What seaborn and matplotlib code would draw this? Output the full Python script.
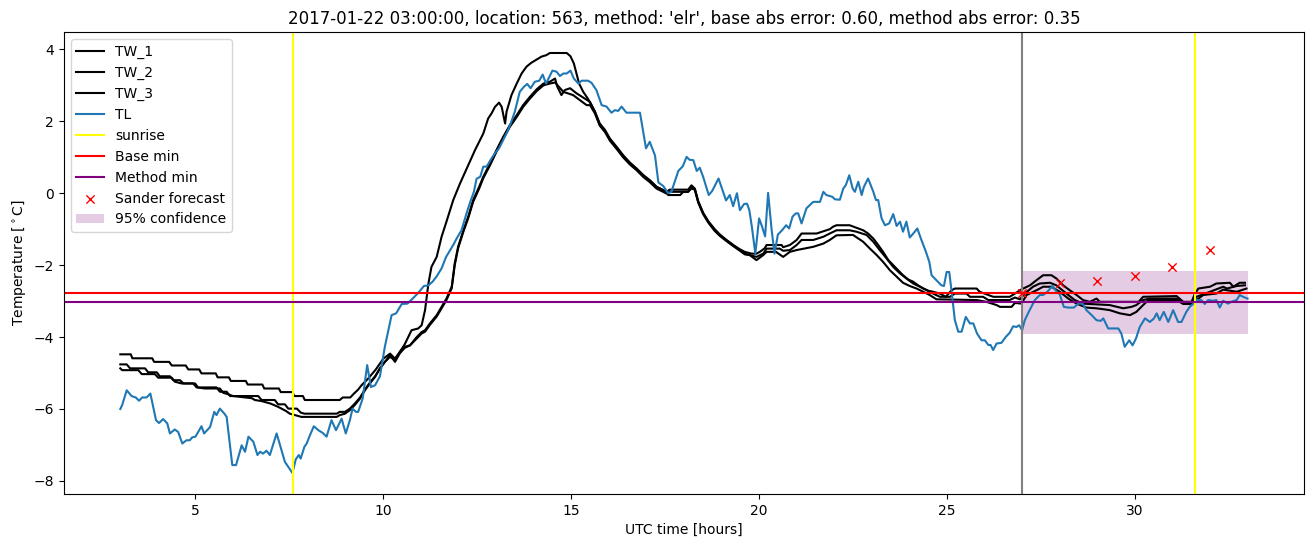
import matplotlib
matplotlib.use("Agg")
import matplotlib.pyplot as plt
import seaborn as sns

# ---------------- data ----------------
tw1_t = [3.0, 3.28, 3.32, 3.85, 3.9, 4.3, 4.37, 4.74, 4.81, 5.1, 5.16, 5.54, 5.59, 5.89, 5.94, 6.34, 6.39, 6.78, 6.83,
         7.22, 7.27, 7.58, 7.63, 7.86, 7.91, 8.84, 8.92, 9.12, 9.22, 9.33, 9.42, 9.6, 9.8, 10.0, 10.18, 10.31, 10.44,
         10.57, 10.75, 10.93, 11.02, 11.11, 11.2, 11.28, 11.42, 11.55, 11.68, 11.86, 12.04, 12.22, 12.44, 12.66, 12.79,
         12.88, 12.97, 13.08, 13.15, 13.24, 13.28, 13.41, 13.55, 13.68, 13.81, 13.94, 14.08, 14.21, 14.34, 14.43, 14.88,
         14.98, 15.07, 15.14, 15.21, 15.32, 15.45, 15.63, 15.76, 15.9, 16.03, 16.21, 16.38, 16.56, 16.74, 16.92, 17.09,
         17.27, 17.54, 17.62, 18.11, 18.2, 18.29, 18.38, 18.51, 18.65, 18.82, 18.96, 19.13, 19.31, 19.49, 19.62, 19.8,
         19.93, 20.02, 20.15, 20.2, 20.6, 20.64, 20.82, 21.0, 21.13, 21.53, 21.88, 21.97, 22.06, 22.41, 22.64, 22.77,
         22.9, 23.04, 23.17, 23.3, 23.44, 23.57, 23.7, 23.83, 23.97, 24.1, 24.23, 24.37, 24.5, 24.63, 24.81, 24.97,
         25.12, 25.21, 25.79, 25.87, 26.1, 26.23, 26.67, 26.81, 26.94, 27.03, 27.21, 27.38, 27.56, 27.78, 27.91, 28.09,
         28.27, 28.45, 28.62, 28.8, 28.98, 29.07, 30.1, 30.22, 31.11, 31.29, 31.51, 31.6, 31.69, 32.0, 32.17, 32.53,
         32.62, 32.79, 32.93]
tw1_v = [-4.48, -4.48, -4.59, -4.59, -4.69, -4.69, -4.79, -4.79, -4.9, -4.9, -5.01, -5.01, -5.12, -5.12, -5.22, -5.22,
         -5.32, -5.32, -5.43, -5.43, -5.53, -5.53, -5.64, -5.64, -5.75, -5.75, -5.68, -5.68, -5.57, -5.46, -5.34, -5.15,
         -4.9, -4.6, -4.46, -4.6, -4.41, -4.2, -3.81, -3.76, -3.67, -3.25, -2.51, -2.05, -1.77, -1.21, -0.79, -0.19,
         0.27, 0.69, 1.2, 1.66, 2.08, 2.22, 2.4, 2.52, 2.4, 1.94, 2.27, 2.73, 3.05, 3.33, 3.52, 3.63, 3.72, 3.8, 3.84,
         3.9, 3.9, 3.81, 3.61, 3.33, 3.05, 2.82, 2.62, 2.27, 1.9, 1.72, 1.5, 1.27, 1.04, 0.85, 0.67, 0.5, 0.36, 0.18,
         0.04, 0.1, 0.1, 0.22, 0.13, -0.22, -0.54, -0.78, -1.0, -1.15, -1.3, -1.44, -1.56, -1.63, -1.68, -1.68, -1.63,
         -1.53, -1.44, -1.44, -1.5, -1.44, -1.3, -1.12, -1.12, -1.0, -0.93, -0.89, -0.89, -0.98, -1.03, -1.12, -1.26,
         -1.44, -1.63, -1.86, -2.0, -2.14, -2.28, -2.4, -2.46, -2.56, -2.65, -2.71, -2.74, -2.79, -2.88, -2.7, -2.65,
         -2.65, -2.74, -2.83, -2.88, -2.88, -2.79, -2.7, -2.65, -2.56, -2.42, -2.28, -2.28, -2.37, -2.56, -2.7, -2.83,
         -2.97, -3.02, -2.93, -3.02, -3.02, -2.88, -2.86, -3.02, -3.02, -2.79, -2.65, -2.6, -2.51, -2.49, -2.6, -2.49,
         -2.49]

tw2_t = [3.0, 3.17, 3.26, 3.66, 3.74, 3.97, 4.05, 4.32, 4.41, 4.59, 4.68, 4.99, 5.07, 5.56, 5.65, 5.83, 5.92, 6.67, 6.76,
         7.11, 7.2, 7.38, 7.47, 7.7, 7.8, 7.9, 8.76, 8.84, 8.98, 9.11, 9.24, 9.38, 9.51, 9.64, 9.78, 9.91, 10.04, 10.18,
         10.31, 10.44, 10.57, 10.71, 10.88, 11.02, 11.11, 11.24, 11.42, 11.55, 11.68, 11.82, 11.9, 11.99, 12.13, 12.26,
         12.39, 12.55, 12.66, 12.84, 13.01, 13.19, 13.37, 13.55, 13.72, 13.9, 14.08, 14.26, 14.43, 14.57, 14.63, 14.74,
         14.83, 14.97, 15.14, 15.32, 15.5, 15.63, 15.76, 15.9, 16.03, 16.21, 16.38, 16.56, 16.74, 16.92, 17.09, 17.27,
         17.54, 17.58, 17.9, 17.98, 18.11, 18.2, 18.29, 18.38, 18.51, 18.65, 18.82, 18.96, 19.13, 19.31, 19.49, 19.62,
         19.75, 19.93, 20.11, 20.2, 20.55, 20.64, 20.82, 21.0, 21.13, 21.44, 21.71, 21.88, 22.06, 22.41, 22.59, 22.86,
         23.04, 23.21, 23.39, 23.57, 23.75, 23.92, 24.1, 24.28, 24.45, 24.63, 24.81, 25.08, 25.21, 25.52, 25.61, 25.96,
         26.1, 26.67, 26.81, 26.94, 27.07, 27.29, 27.47, 27.74, 27.91, 28.18, 28.4, 28.62, 29.33, 29.69, 29.91, 30.04,
         30.22, 30.4, 31.11, 31.29, 31.51, 31.64, 32.0, 32.35, 32.45, 32.71, 32.93]
tw2_v = [-4.76, -4.76, -4.87, -4.87, -4.98, -4.98, -5.09, -5.09, -5.2, -5.2, -5.29, -5.29, -5.4, -5.4, -5.52, -5.52,
         -5.64, -5.64, -5.75, -5.75, -5.87, -5.87, -5.99, -5.99, -6.1, -6.13, -6.13, -6.08, -6.08, -5.99, -5.85, -5.68,
         -5.46, -5.27, -5.09, -4.87, -4.69, -4.55, -4.64, -4.41, -4.27, -4.23, -4.01, -3.86, -3.81, -3.62, -3.39, -3.16,
         -2.93, -2.6, -1.95, -1.49, -1.03, -0.65, -0.19, 0.18, 0.46, 0.83, 1.2, 1.57, 1.9, 2.17, 2.45, 2.68, 2.89, 3.05,
         3.1, 3.19, 2.96, 2.73, 2.87, 2.92, 2.78, 2.66, 2.54, 2.27, 1.94, 1.76, 1.52, 1.29, 1.06, 0.85, 0.69, 0.5, 0.36,
         0.18, 0.04, -0.05, -0.05, 0.04, 0.04, 0.13, 0.1, -0.26, -0.58, -0.82, -1.05, -1.19, -1.33, -1.47, -1.6, -1.7,
         -1.72, -1.77, -1.68, -1.54, -1.54, -1.6, -1.58, -1.44, -1.3, -1.3, -1.21, -1.12, -1.03, -1.03, -1.07, -1.16,
         -1.35, -1.58, -1.81, -2.05, -2.23, -2.37, -2.51, -2.6, -2.69, -2.79, -2.88, -2.88, -2.79, -2.79, -2.88, -2.88,
         -2.97, -2.97, -2.9, -2.95, -2.79, -2.6, -2.51, -2.49, -2.56, -2.79, -2.97, -3.07, -3.11, -3.2, -3.16, -3.11,
         -2.97, -2.93, -2.93, -3.07, -3.07, -2.88, -2.74, -2.6, -2.65, -2.58, -2.56]

tw3_t = [3.0, 3.05, 3.48, 3.57, 3.92, 4.01, 4.37, 4.45, 4.63, 4.94, 5.03, 5.25, 5.65, 5.74, 5.87, 6.0, 6.5, 6.58, 6.76,
         7.0, 7.2, 7.4, 7.51, 7.82, 8.76, 8.84, 8.98, 9.11, 9.24, 9.38, 9.51, 9.64, 9.78, 9.91, 10.04, 10.18, 10.31,
         10.44, 10.57, 10.71, 10.88, 11.02, 11.11, 11.24, 11.42, 11.55, 11.68, 11.82, 11.9, 11.99, 12.13, 12.26, 12.39,
         12.55, 12.66, 12.84, 13.01, 13.19, 13.37, 13.55, 13.72, 13.9, 14.08, 14.26, 14.43, 14.57, 14.79, 15.05, 15.23,
         15.41, 15.5, 15.63, 15.76, 15.9, 16.03, 16.21, 16.38, 16.56, 16.74, 16.92, 17.09, 17.27, 17.54, 17.62, 18.11,
         18.2, 18.29, 18.38, 18.51, 18.65, 18.82, 18.96, 19.13, 19.31, 19.49, 19.62, 19.75, 19.93, 20.11, 20.2, 20.45,
         20.64, 20.82, 21.0, 21.44, 21.71, 21.88, 22.06, 22.5, 22.77, 22.95, 23.13, 23.3, 23.48, 23.66, 23.83, 24.01,
         24.19, 24.37, 24.54, 24.72, 25.79, 26.05, 26.32, 26.41, 26.72, 26.81, 26.98, 27.12, 27.38, 27.56, 27.78, 28.0,
         28.23, 28.45, 28.71, 28.98, 29.33, 29.6, 29.87, 30.04, 30.22, 30.36, 31.11, 31.29, 31.51, 31.64, 31.82, 32.17,
         32.35, 32.71, 32.97]
tw3_v = [-4.87, -4.92, -4.92, -5.03, -5.03, -5.13, -5.13, -5.24, -5.29, -5.29, -5.4, -5.43, -5.43, -5.55, -5.59, -5.64,
         -5.7, -5.75, -5.78, -5.85, -5.94, -6.05, -6.13, -6.22, -6.22, -6.17, -6.13, -6.03, -5.89, -5.71, -5.48, -5.29,
         -5.11, -4.87, -4.69, -4.5, -4.69, -4.45, -4.3, -4.23, -4.05, -3.9, -3.85, -3.66, -3.43, -3.2, -2.97, -2.64,
         -2.0, -1.53, -1.07, -0.69, -0.24, 0.13, 0.42, 0.78, 1.15, 1.52, 1.85, 2.12, 2.4, 2.63, 2.84, 3.0, 3.05, 3.08,
         2.82, 2.73, 2.59, 2.45, 2.45, 2.22, 1.88, 1.7, 1.46, 1.23, 1.0, 0.8, 0.64, 0.45, 0.31, 0.13, -0.01, 0.04, 0.04,
         0.18, 0.1, -0.24, -0.56, -0.8, -1.03, -1.17, -1.3, -1.44, -1.58, -1.68, -1.72, -1.86, -1.72, -1.63, -1.63,
         -1.77, -1.63, -1.58, -1.49, -1.4, -1.3, -1.17, -1.16, -1.35, -1.54, -1.72, -1.91, -2.14, -2.32, -2.49, -2.58,
         -2.65, -2.74, -2.83, -2.95, -2.97, -3.02, -3.11, -3.16, -3.16, -3.05, -3.07, -2.83, -2.7, -2.6, -2.6, -2.74,
         -2.93, -3.07, -3.18, -3.2, -3.25, -3.34, -3.39, -3.3, -3.11, -2.97, -2.97, -3.08, -3.08, -2.97, -2.83, -2.79,
         -2.68, -2.74, -2.65]

tl_t = [3.0, 3.05, 3.17, 3.3, 3.41, 3.5, 3.58, 3.7, 3.8, 3.95, 4.03, 4.14, 4.25, 4.32, 4.45, 4.54, 4.65, 4.76, 4.85,
        4.91, 5.0, 5.16, 5.23, 5.39, 5.5, 5.56, 5.65, 5.77, 5.83, 5.98, 6.08, 6.23, 6.32, 6.41, 6.54, 6.65, 6.72, 6.8,
        6.89, 6.98, 7.16, 7.38, 7.47, 7.58, 7.67, 7.75, 7.8, 7.9, 7.96, 8.03, 8.15, 8.27, 8.38, 8.49, 8.62, 8.74, 8.89,
        9.0, 9.11, 9.18, 9.27, 9.33, 9.45, 9.57, 9.67, 9.78, 9.91, 10.04, 10.22, 10.34, 10.49, 10.64, 10.78, 10.93,
        11.08, 11.2, 11.31, 11.42, 11.55, 11.67, 11.86, 11.95, 12.08, 12.2, 12.3, 12.41, 12.48, 12.58, 12.66, 12.75,
        12.85, 12.97, 13.08, 13.19, 13.3, 13.39, 13.5, 13.63, 13.74, 13.83, 13.92, 14.03, 14.15, 14.24, 14.33, 14.42,
        14.5, 14.61, 14.7, 14.79, 14.88, 14.98, 15.07, 15.19, 15.28, 15.45, 15.54, 15.67, 15.81, 15.94, 16.07, 16.16,
        16.25, 16.34, 16.47, 16.83, 16.99, 17.09, 17.23, 17.32, 17.45, 17.58, 17.67, 17.71, 17.85, 17.97, 18.07, 18.15,
        18.25, 18.34, 18.42, 18.51, 18.66, 18.75, 18.92, 19.04, 19.12, 19.22, 19.31, 19.41, 19.49, 19.6, 19.68, 19.74,
        19.81, 19.9, 20.0, 20.08, 20.16, 20.24, 20.33, 20.41, 20.5, 20.61, 20.72, 20.8, 20.89, 20.98, 21.04, 21.13,
        21.26, 21.35, 21.44, 21.62, 21.71, 21.79, 21.95, 22.02, 22.15, 22.24, 22.31, 22.4, 22.49, 22.55, 22.64, 22.73,
        22.79, 22.9, 23.04, 23.11, 23.17, 23.26, 23.35, 23.46, 23.57, 23.66, 23.75, 23.83, 23.92, 24.01, 24.12, 24.21,
        24.32, 24.44, 24.53, 24.59, 24.72, 24.85, 24.92, 24.99, 25.06, 25.12, 25.21, 25.3, 25.39, 25.5, 25.61, 25.7,
        25.8, 25.92, 26.01, 26.1, 26.16, 26.23, 26.32, 26.45, 26.57, 26.67, 26.76, 26.85, 26.92, 27.0, 27.07, 27.2,
        27.34, 27.47, 27.56, 27.67, 27.81, 27.92, 28.0, 28.11, 28.23, 28.38, 28.49, 28.61, 28.71, 28.85, 28.98, 29.09,
        29.16, 29.29, 29.56, 29.64, 29.73, 29.85, 29.94, 30.03, 30.13, 30.27, 30.4, 30.51, 30.58, 30.66, 30.77, 30.89,
        31.02, 31.15, 31.24, 31.37, 31.46, 31.55, 31.64, 31.77, 31.86, 31.95, 32.08, 32.17, 32.26, 32.35, 32.48, 32.57,
        32.71, 32.79, 32.88, 33.0]
tl_v = [-6.0, -5.89, -5.48, -5.64, -5.68, -5.77, -5.68, -5.68, -5.57, -6.31, -6.39, -6.28, -6.4, -6.68, -6.57, -6.64,
        -6.96, -6.87, -6.87, -6.79, -6.77, -6.48, -6.68, -6.5, -6.08, -6.17, -5.99, -6.13, -6.22, -7.56, -7.56, -7.01,
        -7.19, -6.77, -6.91, -7.28, -7.19, -7.24, -7.16, -7.28, -6.68, -7.47, -7.61, -7.78, -7.4, -7.28, -7.38, -7.05,
        -6.96, -6.77, -6.48, -6.59, -6.66, -6.77, -6.31, -6.59, -6.27, -6.68, -6.31, -5.99, -6.08, -6.08, -5.71, -4.78,
        -5.39, -5.34, -5.09, -4.27, -3.39, -3.34, -3.08, -3.07, -2.93, -2.77, -2.58, -2.56, -2.46, -2.31, -2.09, -1.77,
        -1.44, -1.26, -1.03, -0.61, -0.28, 0.04, 0.4, 0.46, 0.74, 0.74, 0.92, 1.11, 1.25, 1.48, 1.71, 1.94, 2.27, 2.82,
        2.96, 3.04, 2.92, 3.1, 3.13, 3.3, 3.05, 3.24, 3.41, 3.38, 3.26, 3.33, 3.33, 3.41, 3.19, 3.05, 3.13, 3.13, 3.07,
        2.87, 2.45, 2.41, 2.24, 2.31, 2.29, 2.41, 2.24, 2.24, 1.25, 1.43, 1.05, 0.3, 0.2, 0.0, 0.04, 0.18, 0.62, 0.75,
        1.01, 0.93, 0.92, 0.62, 0.71, 0.46, -0.05, 0.06, 0.41, 0.04, -0.2, -0.05, -0.36, 0.0, -0.47, -0.3, -0.29, -0.47,
        -0.95, -1.68, -0.7, -0.93, -1.2, 0.01, -0.98, -1.68, -1.15, -1.03, -0.89, -0.98, -0.65, -0.56, -0.56, -0.84,
        -0.42, -0.33, -0.24, -0.24, 0.04, -0.05, -0.1, -0.17, -0.18, 0.13, 0.23, 0.5, 0.13, 0.04, 0.32, -0.05, 0.18,
        0.41, 0.04, -0.19, -0.19, -0.7, -0.89, -0.84, -0.58, -0.91, -0.79, -1.07, -0.79, -1.23, -1.1, -0.98, -1.3,
        -1.63, -1.91, -2.28, -2.42, -2.56, -2.58, -2.19, -2.19, -2.7, -3.53, -3.85, -3.85, -3.44, -3.62, -3.62, -3.9,
        -4.09, -4.09, -4.22, -4.22, -4.36, -4.18, -4.16, -3.99, -3.88, -3.7, -3.72, -3.67, -3.81, -3.53, -3.25, -2.97,
        -2.83, -2.83, -2.74, -2.58, -2.74, -2.81, -3.16, -3.18, -3.18, -3.07, -3.07, -3.25, -3.39, -3.53, -3.55, -3.48,
        -3.76, -3.76, -3.9, -4.27, -4.09, -4.23, -4.04, -3.72, -3.48, -3.58, -3.48, -3.34, -3.53, -3.3, -3.58, -3.25,
        -3.58, -3.58, -3.3, -3.16, -3.08, -2.97, -2.97, -3.08, -2.97, -2.99, -2.97, -3.18, -2.99, -3.07, -3.02, -2.97,
        -2.83, -2.88, -2.93]

sunrise_hours = [7.6, 31.6]
forecast_start = 27.0
base_min = -2.77
method_min = -3.02
sander_t = [27, 28, 29, 30, 31, 32]
sander_v = [-2.77, -2.49, -2.43, -2.31, -2.06, -1.59]
conf_t = [27.0, 33.0]
conf_low = [-3.91, -3.91]
conf_high = [-2.17, -2.17]

title = ("2017-01-22 03:00:00, location: 563, method: 'elr', "
         "base abs error: 0.60, method abs error: 0.35")

# ---------------- plot ----------------
fig, ax = plt.subplots(figsize=(13.13, 5.47), dpi=100)
fig.subplots_adjust(left=0.0487, right=0.9931, top=0.9415, bottom=0.0969)

sns.lineplot(x=tw1_t, y=tw1_v, color="black", label="TW_1", ax=ax, sort=False)
sns.lineplot(x=tw2_t, y=tw2_v, color="black", label="TW_2", ax=ax, sort=False)
sns.lineplot(x=tw3_t, y=tw3_v, color="black", label="TW_3", ax=ax, sort=False)
sns.lineplot(x=tl_t, y=tl_v, color="#1f77b4", label="TL", ax=ax, sort=False)

for i, h in enumerate(sunrise_hours):
    ax.axvline(h, color="yellow", label="sunrise" if i == 0 else None)
ax.axvline(forecast_start, color="gray")
ax.axhline(base_min, color="red", label="Base min")
ax.axhline(method_min, color="purple", label="Method min")
sns.scatterplot(x=sander_t, y=sander_v, color="red", marker="x", s=36,
                linewidth=1.0, label="Sander forecast", ax=ax, zorder=3)
ax.fill_between(conf_t, conf_low, conf_high, color="purple", alpha=0.2,
                linewidth=0, label="95% confidence")

ax.set_title(title)
ax.set_xlabel("UTC time [hours]")
ax.set_ylabel(r"Temperature [$^\circ$C]")
ax.legend(loc="upper left")

fig.savefig("out.png", dpi=100)
